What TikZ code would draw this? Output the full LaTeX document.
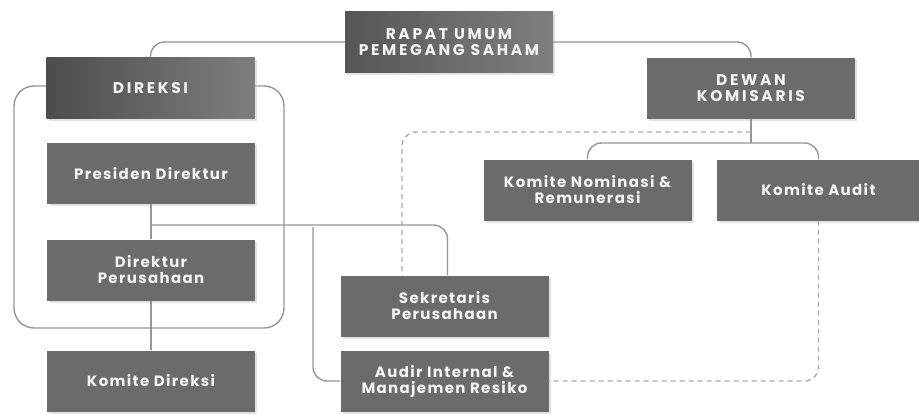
\documentclass[tikz,border=0pt]{standalone}
\usepackage{fontspec}
\setmainfont{Poppins}[LetterSpace=9]
\newfontfamily\capsfont{Poppins}[LetterSpace=17]
\usetikzlibrary{shadows,calc}
\definecolor{boxgray}{HTML}{6B6B6B}
\definecolor{boxdark}{HTML}{555555}
\definecolor{boxlight}{HTML}{7E7E7E}
\definecolor{linegray}{HTML}{959595}
\definecolor{dashgray}{HTML}{ABABAB}
\definecolor{txt}{HTML}{F4F4F4}
\begin{document}
\begin{tikzpicture}[x=1pt,y=-1pt,
  orgbox/.style={rectangle, fill=boxgray, minimum width=208pt, minimum height=61pt,
    inner sep=0pt, align=center, text=txt, font=\bfseries\fontsize{15}{16}\selectfont,
    drop shadow={shadow xshift=2pt, shadow yshift=-2pt, fill=black!18, opacity=0.6}},
  capsbox/.style={orgbox, font=\capsfont\bfseries\fontsize{15.5}{16.5}\selectfont},
  headbox/.style={capsbox, shading=axis, shading angle=90},
  link/.style={draw=linegray, line width=1.4pt, rounded corners=14pt},
  dashlink/.style={draw=dashgray, line width=1.4pt, dash pattern=on 5pt off 4pt, rounded corners=14pt}]
\useasboundingbox (0,0) rectangle (919,415);

% frame grouping the board of directors
\draw[link, rounded corners=20pt] (14,86) rectangle (284,328);

% boxes
\node[headbox, left color=boxdark, right color=boxlight, middle color=boxgray] (rups) at (449,42) {RAPAT UMUM\\PEMEGANG SAHAM};
\node[headbox, left color=boxdark!90!black, right color=boxlight] (direksi) at (150.5,88) {DIREKSI};
\node[orgbox] (presdir) at (151,173.5) {Presiden Direktur};
\node[orgbox] (dirper) at (151,270) {Direktur\\Perusahaan};
\node[orgbox] (komdir) at (151,381) {Komite Direksi};
\node[orgbox] (sekper) at (444.5,306) {Sekretaris\\Perusahaan};
\node[orgbox] (audir) at (444.5,381) {Audir Internal \&\\Manajemen Resiko};
\node[capsbox] (dewan) at (751,88) {DEWAN\\KOMISARIS};
\node[orgbox] (komnom) at (587.5,190) {Komite Nominasi \&\\Remunerasi};
\node[orgbox, minimum width=203pt] (komaud) at (818.5,190) {Komite Audit};

% junction points
\coordinate (br) at (151,225);
\coordinate (ia) at (313,227);
\coordinate (kj) at (751,143);
\coordinate (dj) at (751,132);

% solid reporting lines
\draw[link] (rups.west) -| (direksi.north);
\draw[link] (rups.east) -| (dewan.north);
\draw[link] (presdir.south) -- (dirper.north);
\draw[link] (dirper.south) -- (komdir.north);
\draw[link] (br) -| ([xshift=3pt]sekper.north);
\draw[link] (ia) |- (audir.west);
\draw[link] (dewan.south) -- (kj);
\draw[link] (kj) -| (komnom.north);
\draw[link] (kj) -| (komaud.north);
% dashed coordination lines
\draw[dashlink] (dj) -| ([xshift=-42.5pt]sekper.north);
\draw[dashlink] (komaud.south) |- (audir.east);
\end{tikzpicture}
\end{document}
